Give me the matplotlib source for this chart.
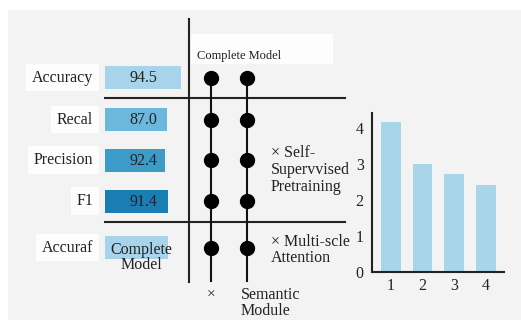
import matplotlib.pyplot as plt
from matplotlib.patches import Rectangle

plt.rcParams['font.family'] = ['Liberation Serif', 'DejaVu Serif']

# left panel: metric rows
metrics = ["Accuracy", "Recal", "Precision", "F1", "Accuraf"]
metric_text = ["94.5", "87.0", "92.4", "91.4", "Complete\nModel"]
bar_len = [76, 62, 60, 63, 63]
bar_colors = ["#a7d4ea", "#6cb8dc", "#3d9bc8", "#1a7db4", "#a7d4ea"]

# matrix annotations
group_labels = ["\u00d7 Self-\nSupervvised\nPretraining", "\u00d7 Multi-scle\nAttention"]
header = "Complete Model"
bottom_labels = ["\u00d7", "Semantic\nModule"]

# right bar chart
ids = [1, 2, 3, 4]
scores = [4.17, 2.99, 2.73, 2.41]

W, H = 521, 320
fig = plt.figure(figsize=(W / 100, H / 100), dpi=100)
fig.patch.set_facecolor("white")
ax = fig.add_axes([0, 0, 1, 1])
ax.set_xlim(0, W)
ax.set_ylim(H, 0)
ax.axis("off")

# gray panel
ax.add_patch(Rectangle((8, 10), W - 8, H - 10, facecolor="#f3f3f3", edgecolor="none", zorder=0))

row_y = [77.5, 119.5, 160, 201, 247.5]
x0 = 105
ax.barh(row_y, bar_len, left=x0, height=23, color=bar_colors, zorder=2)
for y, name in zip(row_y, metrics):
    ax.text(93, y, name, ha="right", va="center", fontsize=11.5, color="#222222",
            bbox=dict(facecolor="#fdfdfd", edgecolor="none", pad=4), zorder=3)
for y, t in zip(row_y[:4], metric_text[:4]):
    ax.text(143, y + 1, t, ha="center", va="center", fontsize=11.5, color="#222222", zorder=3)
ax.text(141, row_y[4] + 10, metric_text[4], ha="center", va="center", fontsize=11.5,
        color="#222222", linespacing=0.95, zorder=3)

# grid lines
ax.plot([189, 189], [19, 282], color="#222222", lw=1.5, zorder=2)
for y in [97.5, 222]:
    ax.plot([105, 345], [y, y], color="#222222", lw=1.5, zorder=2)

# dot matrix
for cx in [211, 246.5]:
    ax.plot([cx, cx], [row_y[0], 281], color="#111111", lw=1.5, zorder=2)
    ax.plot([cx] * len(row_y), row_y, "o", color="black", markersize=10, zorder=3)

ax.add_patch(Rectangle((191, 34), 142, 30, facecolor="#fdfdfd", edgecolor="none", zorder=1))
ax.text(197, 56, header, ha="left", va="center", fontsize=9, color="#222222", zorder=3)

ax.text(271, 170, group_labels[0], ha="left", va="center", fontsize=11.5, color="#222222",
        linespacing=1.05, zorder=3)
ax.text(271, 250, group_labels[1], ha="left", va="center", fontsize=11.5, color="#222222",
        linespacing=1.0, zorder=3)
ax.text(211, 295, bottom_labels[0], ha="center", va="center", fontsize=11, color="#222222")
ax.text(241, 303, bottom_labels[1], ha="left", va="center", fontsize=11.5, color="#222222",
        linespacing=1.0)

# right bar chart
bx = fig.add_axes([372 / W, (H - 272) / H, (504 - 372) / W, (272 - 113) / H])
bx.bar(ids, scores, width=0.62, color="#a8d5ea")
bx.set_xlim(0.4, 4.57)
bx.set_ylim(0, 4.42)
bx.set_facecolor("none")
bx.set_xticks(ids)
bx.set_yticks([0, 1, 2, 3, 4])
bx.tick_params(length=0, labelsize=11.5, colors="#222222", pad=4)
bx.tick_params(axis="y", pad=6)
for s in ["top", "right"]:
    bx.spines[s].set_visible(False)
for s in ["left", "bottom"]:
    bx.spines[s].set_linewidth(1.5)
    bx.spines[s].set_color("#222222")

fig.savefig("out.png", dpi=100)
